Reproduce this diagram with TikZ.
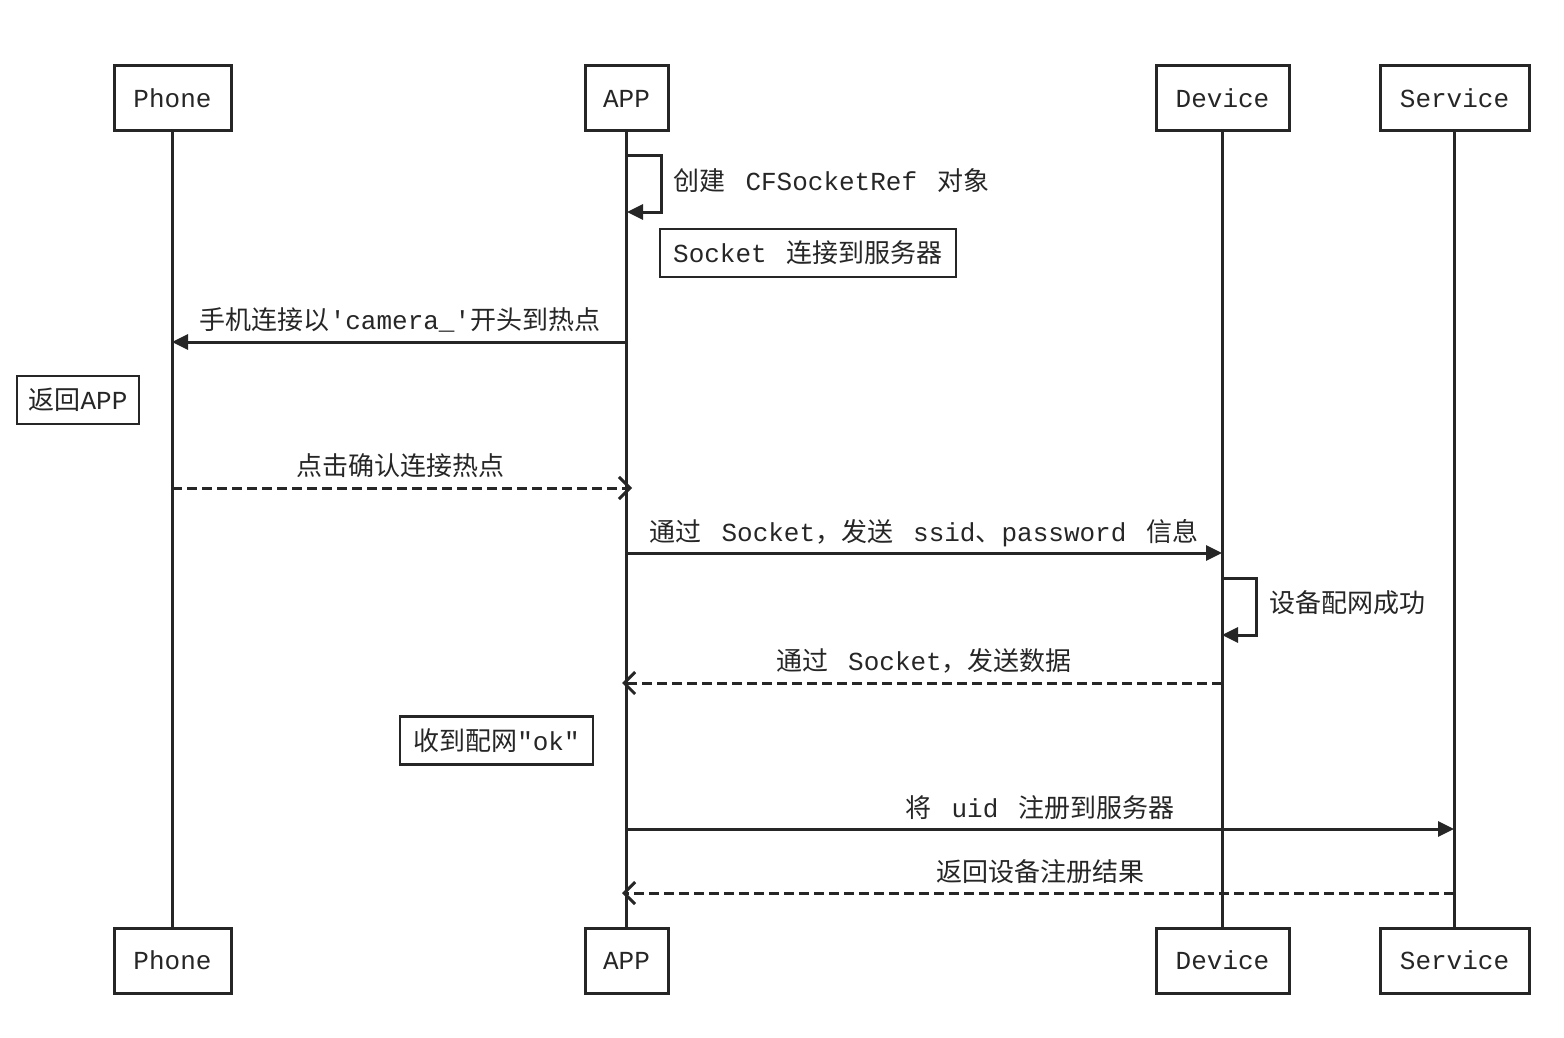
\documentclass[tikz,border=0pt]{standalone}
\usepackage{fontspec}
\setmainfont{Noto Sans CJK SC}
\newfontfamily\lt{Liberation Mono}
\newcommand\gp{\hspace{20pt}}
\usetikzlibrary{arrows.meta}
\definecolor{ink}{HTML}{262626}
\begin{document}
\begin{tikzpicture}[x=1pt,y=-1pt,line width=3pt,color=ink,
  actor/.style={draw,line width=3pt,fill=white,minimum height=65pt,inner sep=0pt,text=ink,font=\fontsize{26}{30}\selectfont\lt},
  notebox/.style={draw,line width=2.5pt,fill=white,minimum height=48pt,inner sep=0pt,text=ink,font=\fontsize{26}{30}\selectfont},
  lbl/.style={inner sep=0pt,text=ink,font=\fontsize{26}{30}\selectfont},
  life/.style={line width=3pt},
  sync/.style={line width=3pt,-{Triangle[length=16pt,width=15pt]}},
  reply/.style={line width=3pt,dash pattern=on 10pt off 5pt,-{Straight Barb[length=11pt,width=22pt]}}]
\useasboundingbox (0,0) rectangle (1564,1038);
% lifelines heads and feet
\node[actor,minimum width=117pt] (phT) at (172.5,98.5) {Phone};
\node[actor,minimum width=83pt]  (apT) at (626.5,98.5) {APP};
\node[actor,minimum width=133pt] (dvT) at (1222.5,98.5) {Device};
\node[actor,minimum width=149pt] (svT) at (1454.5,98.5) {Service};
\node[actor,minimum width=117pt] (phB) at (172.5,960.5) {Phone};
\node[actor,minimum width=83pt]  (apB) at (626.5,960.5) {APP};
\node[actor,minimum width=133pt] (dvB) at (1222.5,960.5) {Device};
\node[actor,minimum width=149pt] (svB) at (1454.5,960.5) {Service};
\draw[life] (phT.south) -- (phB.north);
\draw[life] (apT.south) -- (apB.north);
\draw[life] (dvT.south) -- (dvB.north);
\draw[life] (svT.south) -- (svB.north);
% coordinates on lifelines
\coordinate (a1) at (627,156);
\coordinate (a2) at (627,212);
\coordinate (a3) at (627,342);
\coordinate (p3) at (172,342);
\coordinate (p4) at (172,488);
\coordinate (a4) at (632,488);
\coordinate (a5) at (627,553);
\coordinate (d5) at (1222,553);
\coordinate (d6) at (1222,578);
\coordinate (d7) at (1222,635);
\coordinate (d8) at (1222,683);
\coordinate (a8) at (622,683);
\coordinate (a9) at (627,829);
\coordinate (s9) at (1454,829);
\coordinate (s10) at (1454,893);
\coordinate (a10) at (622,893);
% messages
\draw[sync] (a1) -- ++(34,0) |- (a2);
\node[lbl,anchor=base west] (m1) at (672,190) {创建\gp{\lt CFSocketRef}\gp 对象};
\node[notebox,minimum width=296pt] (n1) at (808,253) {{\lt Socket}\gp 连接到服务器};
\draw[sync] (a3) -- (p3);
\node[lbl,anchor=base] (m2) at (400,329) {手机连接以{\lt\symbol{39}camera\_\symbol{39}}开头到热点};
\node[notebox,minimum width=122pt] (n2) at (78,400) {返回{\lt APP}};
\draw[reply] (p4) -- (a4);
\node[lbl,anchor=base] (m3) at (400,475) {点击确认连接热点};
\draw[sync] (a5) -- (d5);
\node[lbl,anchor=base] (m4) at (924,541) {通过\gp{\lt Socket}，发送\gp{\lt ssid}、{\lt password}\gp 信息};
\draw[sync] (d6) -- ++(34,0) |- (d7);
\node[lbl,anchor=base west] (m5) at (1268,612) {设备配网成功};
\draw[reply] (d8) -- (a8);
\node[lbl,anchor=base] (m6) at (924,670) {通过\gp{\lt Socket}，发送数据};
\node[notebox,minimum width=193pt] (n3) at (496.5,740.5) {收到配网{\lt\symbol{34}ok\symbol{34}}};
\draw[sync] (a9) -- (s9);
\node[lbl,anchor=base] (m7) at (1040,817) {将\gp{\lt uid}\gp 注册到服务器};
\draw[reply] (s10) -- (a10);
\node[lbl,anchor=base] (m8) at (1040,881) {返回设备注册结果};
\end{tikzpicture}
\end{document}
